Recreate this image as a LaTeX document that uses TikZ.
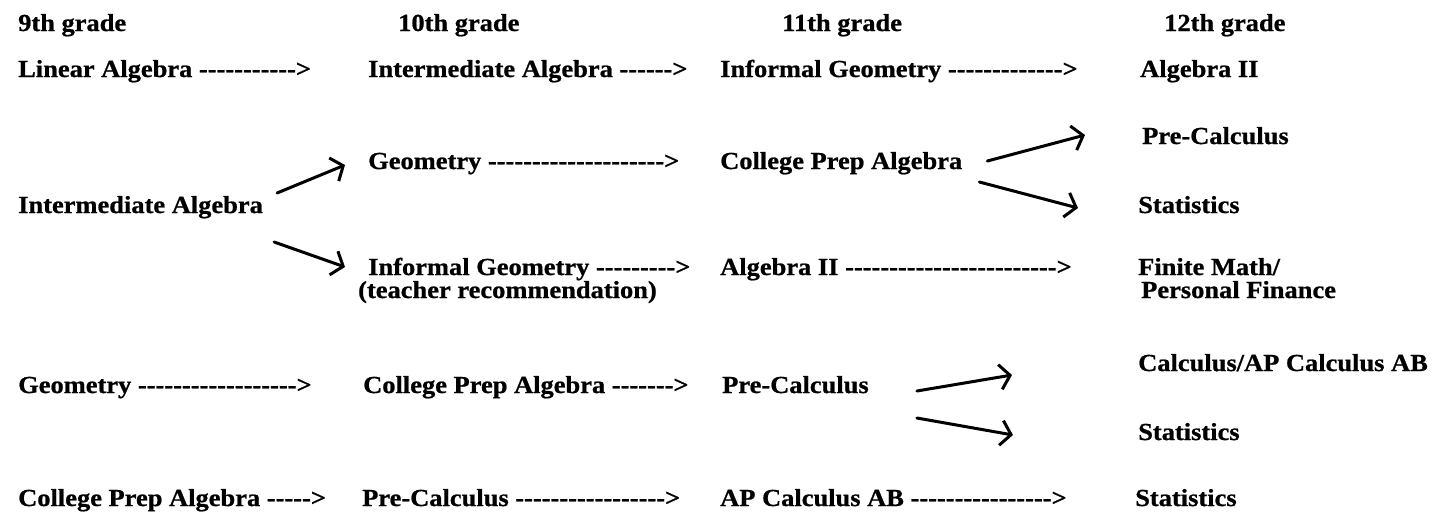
\documentclass[tikz,border=0pt]{standalone}
\usepackage{fontspec}
\newfontfamily\coursefont{Liberation Serif}[FakeStretch=1.08, BoldFeatures={FakeBold=0.8}]
\usepackage{tikz}
\usetikzlibrary{arrows.meta,positioning}
\newcommand{\dashto}[1]{\foreach \k in {1,...,#1}{-}>}

\begin{document}
\begin{tikzpicture}[x=1pt, y=-1pt,
			course/.style={font=\coursefont\bfseries\fontsize{24.5}{20}\selectfont,
				inner sep=0pt, anchor=base west},
			arrow/.style={-{Straight Barb[length=10pt,width=25pt]}, line width=3pt, line cap=round}
		]
			\useasboundingbox (0,0) rectangle (1432,515);
			\node[course] (g9) at (18,31) {9th grade};
			\node[course] (g10) at (398,31) {10th grade};
			\node[course] (g11) at (782,31) {11th grade};
			\node[course] (g12) at (1164,31) {12th grade};
			\node[course] (la9) at (18,77) {Linear Algebra \dashto{11}};
			\node[course] (ia10) at (368,77) {Intermediate Algebra \dashto{6}};
			\node[course] (ig11) at (720,77) {Informal Geometry \dashto{13}};
			\node[course] (alg12) at (1140,77) {Algebra II};
			\node[course] (ia9) at (18,213) {Intermediate Algebra};
			\node[course] (geo10) at (368,169) {Geometry \dashto{20}};
			\node[course] (cpa11) at (720,169) {College Prep Algebra};
			\node[course] (pc12) at (1142,144) {Pre-Calculus};
			\node[course] (st12a) at (1138,213) {Statistics};
			\node[course] (ig10) at (368,275) {Informal Geometry \dashto{9}};
			\node[course] (tr10) at (358,298) {(teacher recommendation)};
			\node[course] (alg11) at (720,275) {Algebra II \dashto{24}};
			\node[course] (fm12) at (1138,275) {Finite Math/};
			\node[course] (pf12) at (1141,298) {Personal Finance};
			\node[course] (geo9) at (18,393) {Geometry \dashto{18}};
			\node[course] (cpa10) at (363,393) {College Prep Algebra \dashto{7}};
			\node[course] (pc11) at (722,393) {Pre-Calculus};
			\node[course] (calc12) at (1138,371) {Calculus/AP Calculus AB};
			\node[course] (st12b) at (1138,440) {Statistics};
			\node[course] (cpa9) at (18,506) {College Prep Algebra \dashto{5}};
			\node[course] (pc10) at (362,506) {Pre-Calculus \dashto{17}};
			\node[course] (ap11) at (720,506) {AP Calculus AB \dashto{16}};
			\node[course] (st12c) at (1135,506) {Statistics};
			\draw[arrow] ([shift={(14,-20)}]ia9.base east) -- ([shift={(-23,-4)}]geo10.base west);
			\draw[arrow] ([shift={(11,29)}]ia9.base east) -- ([shift={(-23,-8)}]ig10.base west);
			\draw[arrow] ([shift={(25,-8)}]cpa11.base east) -- ([shift={(-57,-9)}]pc12.base west);
			\draw[arrow] ([shift={(17,13)}]cpa11.base east) -- ([shift={(-60,-5)}]st12a.base west);
			\draw[arrow] ([shift={(48,-2)}]pc11.base east) -- ([shift={(-126,4)}]calc12.base west);
			\draw[arrow] ([shift={(48,25)}]pc11.base east) -- ([shift={(-125,-5)}]st12b.base west);
		\end{tikzpicture}
\end{document}
